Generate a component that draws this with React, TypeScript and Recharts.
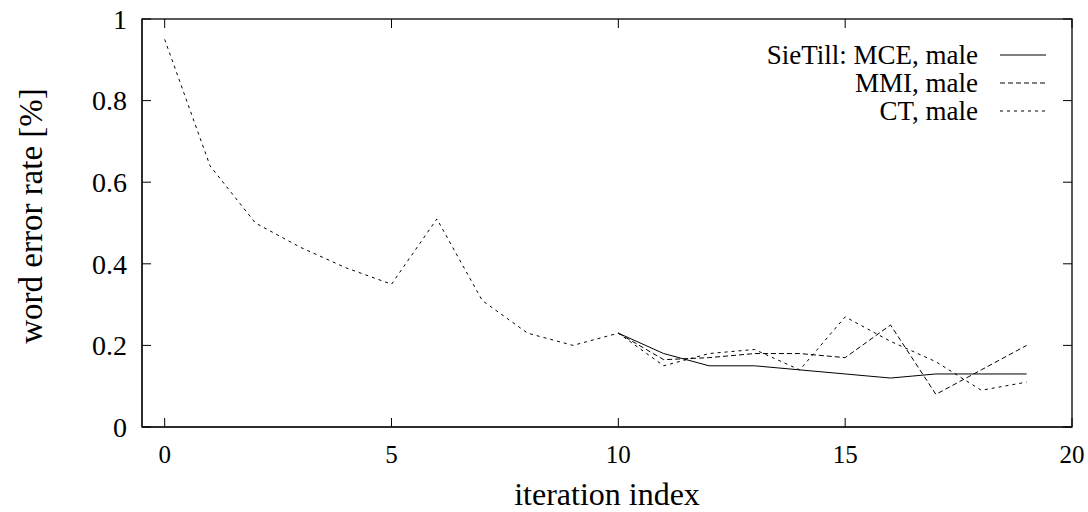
import { LineChart, Line, XAxis, YAxis } from "recharts"

const iterations = [0, 1, 2, 3, 4, 5, 6, 7, 8, 9, 10, 11, 12, 13, 14, 15, 16, 17, 18, 19]
const mceMale = [null, null, null, null, null, null, null, null, null, null, 0.23, 0.18, 0.15, 0.15, 0.14, 0.13, 0.12, 0.13, 0.13, 0.13]
const mmiMale = [null, null, null, null, null, null, null, null, null, null, 0.23, 0.165, 0.17, 0.18, 0.18, 0.17, 0.25, 0.08, 0.14, 0.2]
const ctMale = [0.95, 0.64, 0.5, 0.44, 0.39, 0.35, 0.51, 0.31, 0.23, 0.2, 0.23, 0.15, 0.18, 0.19, 0.14, 0.27, 0.21, 0.16, 0.09, 0.11]

const xTicks = [0, 5, 10, 15, 20]
const yTicks = [0, 0.2, 0.4, 0.6, 0.8, 1]

const series = [
  { key: "mce", name: "SieTill: MCE, male", dash: undefined as string | undefined },
  { key: "mmi", name: "MMI, male", dash: "5 3" },
  { key: "ct", name: "CT, male", dash: "3 4" },
]

const data = iterations.map((it, i) => ({ it, mce: mceMale[i], mmi: mmiMale[i], ct: ctMale[i] }))

const FONT = "'Liberation Serif', 'Times New Roman', serif"
const TICK = 9

// plot box, follows from the chart margins and axis sizes below
const W = 1088
const H = 512
const M = { top: 19, right: 16 }
const Y_W = 142
const X_H = 85
const box = { l: Y_W, t: M.top, r: W - M.right, b: H - X_H }
const X_DOM = [-0.5, 20]
const px = (v: number) => box.l + ((v - X_DOM[0]) / (X_DOM[1] - X_DOM[0])) * (box.r - box.l)
const py = (v: number) => box.b - v * (box.b - box.t)

const BottomTick = ({ x, y, payload }: any) => (
  <text x={x} y={y + 36} textAnchor="middle" fontFamily={FONT} fontSize={25} fill="#000">{payload.value}</text>
)
const LeftTick = ({ x, y, payload }: any) => (
  <text x={x - 15} y={y} dy="0.35em" textAnchor="end" fontFamily={FONT} fontSize={28} fill="#000">{String(payload.value)}</text>
)

// gnuplot style frame with inward mirrored tick marks
const Frame = () => (
  <svg width={W} height={H} style={{ position: "absolute", left: 0, top: 0, pointerEvents: "none" }}>
    <rect x={box.l} y={box.t} width={box.r - box.l} height={box.b - box.t} fill="none" stroke="#000" strokeWidth={1.3} />
    {xTicks.map((t) => (
      <g key={"x" + t}>
        <line x1={px(t)} y1={box.b} x2={px(t)} y2={box.b - TICK} stroke="#000" />
        <line x1={px(t)} y1={box.t} x2={px(t)} y2={box.t + TICK} stroke="#000" />
      </g>
    ))}
    {yTicks.map((t) => (
      <g key={"y" + t}>
        <line x1={box.l} y1={py(t)} x2={box.l + TICK} y2={py(t)} stroke="#000" />
        <line x1={box.r} y1={py(t)} x2={box.r - TICK} y2={py(t)} stroke="#000" />
      </g>
    ))}
  </svg>
)

const LegendBox = () => (
  <div style={{ position: "absolute", top: 41, left: 716, width: 330, fontFamily: FONT, fontSize: 27, color: "#000" }}>
    {series.map((s) => (
      <div key={s.key} style={{ display: "flex", alignItems: "center", height: 28 }}>
        <span style={{ width: 262, textAlign: "right", lineHeight: "28px", whiteSpace: "nowrap" }}>{s.name}</span>
        <svg width={22} height={28} />
        <svg width={46} height={28}>
          <line x1={0} y1={14} x2={46} y2={14} stroke="#000" strokeDasharray={s.dash} />
        </svg>
      </div>
    ))}
  </div>
)

const YLabel = () => (
  <div
    style={{
      position: "absolute",
      left: 31,
      top: 216,
      transform: "translate(-50%, -50%) rotate(-90deg)",
      fontFamily: FONT,
      fontSize: 33,
      lineHeight: 1,
      whiteSpace: "nowrap",
      color: "#000",
    }}
  >
    word error rate [%]
  </div>
)

export default function App() {
  return (
    <div style={{ position: "absolute", left: 0, top: 0, width: W, height: H, background: "#fff" }}>
      <LineChart width={W} height={H} data={data} margin={{ top: M.top, right: M.right, bottom: 0, left: 0 }}>
        <XAxis
          dataKey="it"
          type="number"
          domain={X_DOM}
          ticks={xTicks}
          allowDataOverflow
          height={X_H}
          stroke="#000"
          tickSize={0}
          tickMargin={0}
          tickLine={false}
          tick={<BottomTick />}
          label={{
            content: ({ viewBox }: any) => (
              <text x={viewBox.x + viewBox.width / 2} y={viewBox.y + 78} textAnchor="middle" fontFamily={FONT} fontSize={32} fill="#000">iteration index</text>
            ),
          }}
        />
        <YAxis
          domain={[0, 1]}
          ticks={yTicks}
          width={Y_W}
          stroke="#000"
          tickSize={0}
          tickMargin={0}
          tickLine={false}
          tick={<LeftTick />}
        />
        {series.map((s) => (
          <Line
            key={s.key}
            dataKey={s.key}
            stroke="#000"
            strokeWidth={1}
            strokeDasharray={s.dash}
            dot={false}
            isAnimationActive={false}
          />
        ))}
      </LineChart>
      <Frame />
      <LegendBox />
      <YLabel />
    </div>
  )
}
